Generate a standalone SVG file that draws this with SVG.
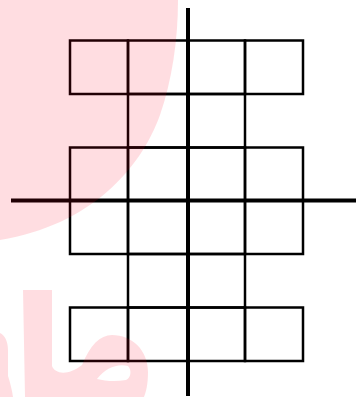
<svg xmlns="http://www.w3.org/2000/svg" width="356" height="397" viewBox="0 0 356 397">
  <style>
    .cell { fill: none; stroke: #000; stroke-width: 2.5; }
    .axis { stroke: #000; stroke-width: 4; fill: none; }
    .wm { fill: #ff001f; }
  </style>
  <rect x="0" y="0" width="356" height="397" fill="#fff"/>
  <g id="grid">
    <g id="row1">
      <rect class="cell" x="70" y="40.5" width="58" height="53.5"/>
      <rect class="cell" x="128" y="40.5" width="59.5" height="53.5"/>
      <rect class="cell" x="187.5" y="40.5" width="57.5" height="53.5"/>
      <rect class="cell" x="245" y="40.5" width="58" height="53.5"/>
    </g>
    <g id="row2">
      <rect class="cell" x="128" y="94" width="59.5" height="53.5"/>
      <rect class="cell" x="187.5" y="94" width="57.5" height="53.5"/>
    </g>
    <g id="row3">
      <rect class="cell" x="70" y="147.5" width="58" height="53"/>
      <rect class="cell" x="128" y="147.5" width="59.5" height="53"/>
      <rect class="cell" x="187.5" y="147.5" width="57.5" height="53"/>
      <rect class="cell" x="245" y="147.5" width="58" height="53"/>
    </g>
    <g id="row4">
      <rect class="cell" x="70" y="200.5" width="58" height="53.5"/>
      <rect class="cell" x="128" y="200.5" width="59.5" height="53.5"/>
      <rect class="cell" x="187.5" y="200.5" width="57.5" height="53.5"/>
      <rect class="cell" x="245" y="200.5" width="58" height="53.5"/>
    </g>
    <g id="row5">
      <rect class="cell" x="128" y="254" width="59.5" height="53.5"/>
      <rect class="cell" x="187.5" y="254" width="57.5" height="53.5"/>
    </g>
    <g id="row6">
      <rect class="cell" x="70" y="307.5" width="58" height="53.5"/>
      <rect class="cell" x="128" y="307.5" width="59.5" height="53.5"/>
      <rect class="cell" x="187.5" y="307.5" width="57.5" height="53.5"/>
      <rect class="cell" x="245" y="307.5" width="58" height="53.5"/>
    </g>
  </g>
  <g id="axes">
    <line class="axis" x1="188" y1="8" x2="188" y2="396"/>
    <line class="axis" x1="11" y1="200.5" x2="356" y2="200.5"/>
  </g>
  <g id="watermark" opacity="0.13">
    <path class="wm" d="M0,0 L178,0 C178,40 172,80 160,115 C140,170 90,225 0,240 Z"/>
    <path class="wm" fill-rule="evenodd" d="M23,290 H52 V366 C55,374 68,376 82,365 C90,345 100,335 112,335 C132,335 148,350 148,372 C148,385 146,392 144,397 H25 Z M97,379 C105,368 118,363 128,366 C132,370 131,378 126,380 C115,382 105,381 97,379 Z"/>
    <path class="wm" d="M0,333 C5,335 8,342 8,350 L8,376 C10,382 12,390 13,397 H0 Z"/>
  </g>
</svg>
